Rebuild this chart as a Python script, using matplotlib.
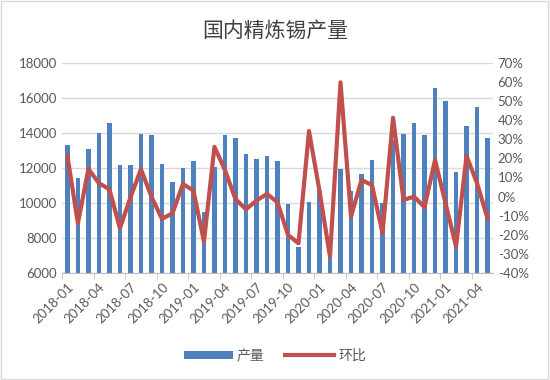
import numpy as np
import matplotlib.pyplot as plt
from matplotlib.ticker import FuncFormatter
from matplotlib.patches import Rectangle

plt.rcParams['font.family'] = ['Lato', 'Noto Sans CJK SC', 'DejaVu Sans']

months = [f"{y}-{m:02d}" for y in (2018, 2019, 2020, 2021) for m in range(1, 13)][:41]

output = [13300, 11450, 13100, 14000, 14600, 12170, 12170, 13930, 13890, 12250,
          11200, 11980, 12400, 9500, 12040, 13890, 13700, 12800, 12530, 12700,
          12400, 9930, 7470, 10070, 10690, 6930, 11940, 10690, 11660, 12440,
          9980, 13600, 13960, 14550, 13870, 16570, 15810, 11790, 14420, 15470,
          13730]

mom = [21.3, -14.0, 14.5, 7.0, 3.8, -16.6, -0.5, 14.3, 0.0, -11.7,
       -8.8, 6.6, 3.1, -23.6, 26.1, 13.9, -1.3, -6.7, -2.1, 1.4,
       -3.0, -20.1, -24.5, 34.4, 3.0, -31.5, 59.9, -10.5, 8.7, 6.0,
       -19.2, 41.3, -1.8, 0.0, -5.6, 19.2, -3.5, -26.2, 21.3, 7.0,
       -11.4]

x = np.arange(len(months))
bar_color = '#4F81BD'
line_color = '#C0504D'
text_color = '#595959'

fig = plt.figure(figsize=(5.5, 3.8), dpi=100)
ax = fig.add_axes([0.113, 0.282, 0.783, 0.552])
ax2 = ax.twinx()

ax.bar(x, output, width=0.42, color=bar_color, label='产量', zorder=2)
ax2.plot(x, mom, color=line_color, lw=3, label='环比', zorder=3)

ax.set_xlim(-0.5, len(months) - 0.5)
ax.set_ylim(6000, 18000)
ax.set_yticks(range(6000, 18001, 2000))
ax2.set_ylim(-40, 70)
ax2.set_yticks(range(-40, 71, 10))
ax2.yaxis.set_major_formatter(FuncFormatter(lambda v, p: f"{int(v)}%"))

ax.grid(axis='y', color='#D9D9D9', lw=1, zorder=0)
ax.set_axisbelow(True)

ax.set_xticks(x[::3])
ax.set_xticklabels(months[::3], rotation=45, ha='right', rotation_mode='anchor')
ax.set_xticks(np.arange(-0.5, len(months), 3), minor=True)
ax.tick_params(axis='x', which='major', length=0, pad=6)
ax.tick_params(axis='x', which='minor', length=4, color='#BFBFBF')
ax.tick_params(axis='y', length=0, labelsize=9.5, colors=text_color)
ax.tick_params(axis='x', labelsize=9.5, colors=text_color)
ax2.tick_params(axis='y', length=0, labelsize=9.5, colors=text_color)

for a in (ax, ax2):
    for s in ('top', 'left', 'right'):
        a.spines[s].set_visible(False)
ax.spines['bottom'].set_color('#BFBFBF')
ax2.spines['bottom'].set_visible(False)

fig.text(0.5, 0.92, '国内精炼锡产量', ha='center', va='center', fontsize=15,
         color='#404040')

h1, l1 = ax.get_legend_handles_labels()
h2, l2 = ax2.get_legend_handles_labels()
fig.legend(h1 + h2, l1 + l2, loc='center', bbox_to_anchor=(0.5, 0.065), ncol=2,
           frameon=False, fontsize=10, labelcolor=text_color,
           handlelength=3.5, handleheight=0.6, columnspacing=1.5, handletextpad=0.3)

fig.patches.append(Rectangle((0.002, 0.003), 0.995, 0.994, transform=fig.transFigure,
                             fill=False, edgecolor='#D9D9D9', lw=1))

fig.savefig('out.png', dpi=100)
